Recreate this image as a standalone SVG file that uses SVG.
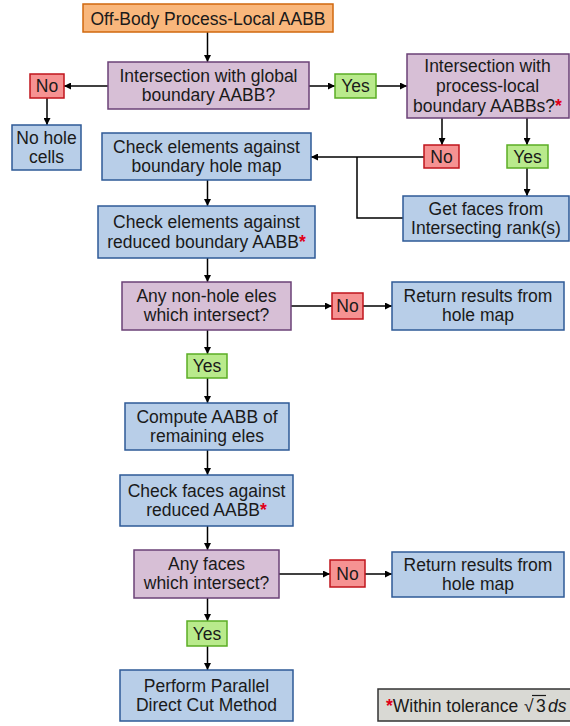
<svg xmlns="http://www.w3.org/2000/svg" width="570" height="726" viewBox="0 0 570 726">
<style>
text{font-family:"Liberation Sans",Arial,sans-serif;font-size:17.5px;fill:#1a1a1a;text-anchor:middle}
rect{stroke-width:1.5}
.org{fill:#f9b77c;stroke:#d0680e}
.pur{fill:#d7bfd6;stroke:#6b4277}
.blu{fill:#b8cee8;stroke:#2e5a97}
.red{fill:#f69292;stroke:#c0141c}
.grn{fill:#b9ea8c;stroke:#5bad24}
.leg{fill:#d9d9d4;stroke:#333333}
.ast{fill:#e0001a;font-weight:bold}
#connectors line,#connectors polyline{stroke:#000;stroke-width:1.5;fill:none}
</style>
<defs>
<marker id="ah" viewBox="0 0 10 10" refX="10" refY="5" markerWidth="7" markerHeight="7" markerUnits="userSpaceOnUse" orient="auto">
<path d="M0,0 L10,5 L0,10 Z" fill="#000"/>
</marker>
</defs>
<rect width="570" height="726" fill="#ffffff"/>
<g id="connectors">
<line x1="207.5" y1="32" x2="207.5" y2="62" marker-end="url(#ah)"/>
<line x1="108" y1="86" x2="64" y2="86" marker-end="url(#ah)"/>
<line x1="47" y1="98" x2="47" y2="125" marker-end="url(#ah)"/>
<line x1="309" y1="86" x2="335" y2="86" marker-end="url(#ah)"/>
<line x1="376" y1="86" x2="407" y2="86" marker-end="url(#ah)"/>
<line x1="442" y1="118" x2="442" y2="145" marker-end="url(#ah)"/>
<line x1="527" y1="118" x2="527" y2="145" marker-end="url(#ah)"/>
<line x1="527" y1="168" x2="527" y2="196" marker-end="url(#ah)"/>
<line x1="424" y1="157" x2="311" y2="157" marker-end="url(#ah)"/>
<polyline points="403,218 357,218 357,157"/>
<line x1="207.5" y1="180" x2="207.5" y2="206" marker-end="url(#ah)"/>
<line x1="207.5" y1="258" x2="207.5" y2="282" marker-end="url(#ah)"/>
<line x1="291" y1="306" x2="332" y2="306" marker-end="url(#ah)"/>
<line x1="363" y1="306" x2="392" y2="306" marker-end="url(#ah)"/>
<line x1="207.5" y1="330" x2="207.5" y2="354" marker-end="url(#ah)"/>
<line x1="207.5" y1="378" x2="207.5" y2="403" marker-end="url(#ah)"/>
<line x1="207.5" y1="450" x2="207.5" y2="475" marker-end="url(#ah)"/>
<line x1="207.5" y1="526" x2="207.5" y2="550" marker-end="url(#ah)"/>
<line x1="279" y1="574" x2="330" y2="574" marker-end="url(#ah)"/>
<line x1="365" y1="574" x2="392" y2="574" marker-end="url(#ah)"/>
<line x1="207.5" y1="598" x2="207.5" y2="621" marker-end="url(#ah)"/>
<line x1="207.5" y1="646" x2="207.5" y2="670" marker-end="url(#ah)"/>
</g>
<g id="start"><rect class="org" x="83" y="4" width="250" height="28"/><text x="208" y="24.5">Off-Body Process-Local AABB</text></g>
<g id="d1"><rect class="pur" x="108" y="62" width="201" height="47"/><text x="208.5" y="81.5">Intersection with global</text><text x="208.5" y="101">boundary AABB?</text></g>
<g id="no1"><rect class="red" x="30" y="74" width="34" height="24"/><text x="47" y="92">No</text></g>
<g id="nohole"><rect class="blu" x="12" y="125" width="69" height="45"/><text x="46.5" y="143.5">No hole</text><text x="46.5" y="163">cells</text></g>
<g id="check1"><rect class="blu" x="102" y="133" width="209" height="47"/><text x="206.5" y="152.5">Check elements against</text><text x="206.5" y="172">boundary hole map</text></g>
<g id="yes1"><rect class="grn" x="335" y="74" width="41" height="24"/><text x="355.5" y="92">Yes</text></g>
<g id="d2"><rect class="pur" x="407" y="54" width="162" height="64"/><text x="487.5" y="71.5">Intersection with</text><text x="487.5" y="91.5">process-local</text><text x="487.5" y="111.5">boundary AABBs?<tspan class="ast">*</tspan></text></g>
<g id="no2"><rect class="red" x="424" y="145" width="35" height="23"/><text x="441.5" y="162.5">No</text></g>
<g id="yes2"><rect class="grn" x="507" y="145" width="41" height="23"/><text x="527.5" y="162.5">Yes</text></g>
<g id="getfaces"><rect class="blu" x="403" y="196" width="166" height="45"/><text x="486" y="214.5">Get faces from</text><text x="486" y="234">Intersecting rank(s)</text></g>
<g id="check2"><rect class="blu" x="98" y="206" width="217" height="52"/><text x="206.5" y="228">Check elements against</text><text x="206.5" y="247.5">reduced boundary AABB<tspan class="ast">*</tspan></text></g>
<g id="d3"><rect class="pur" x="122" y="282" width="169" height="48"/><text x="206.5" y="302">Any non-hole eles</text><text x="206.5" y="321">which intersect?</text></g>
<g id="no3"><rect class="red" x="332" y="293" width="31" height="26"/><text x="347.5" y="312">No</text></g>
<g id="ret1"><rect class="blu" x="392" y="282" width="172" height="48"/><text x="478" y="302">Return results from</text><text x="478" y="321">hole map</text></g>
<g id="yes3"><rect class="grn" x="187" y="354" width="40" height="24"/><text x="207" y="372">Yes</text></g>
<g id="compute"><rect class="blu" x="125" y="403" width="164" height="47"/><text x="207" y="422.5">Compute AABB of</text><text x="207" y="442">remaining eles</text></g>
<g id="checkfaces"><rect class="blu" x="120" y="475" width="173" height="51"/><text x="206.5" y="496.5">Check faces against</text><text x="206.5" y="516">reduced AABB<tspan class="ast">*</tspan></text></g>
<g id="d4"><rect class="pur" x="134" y="550" width="145" height="48"/><text x="206.5" y="570">Any faces</text><text x="206.5" y="589">which intersect?</text></g>
<g id="no4"><rect class="red" x="330" y="560" width="35" height="27"/><text x="347.5" y="579.5">No</text></g>
<g id="ret2"><rect class="blu" x="392" y="552" width="172" height="45"/><text x="478" y="570.5">Return results from</text><text x="478" y="590">hole map</text></g>
<g id="yes4"><rect class="grn" x="187" y="621" width="40" height="25"/><text x="207" y="640">Yes</text></g>
<g id="perform"><rect class="blu" x="120" y="670" width="173" height="51"/><text x="206.5" y="691.5">Perform Parallel</text><text x="206.5" y="711">Direct Cut Method</text></g>
<g id="legend"><rect class="leg" x="378" y="689" width="200" height="32"/>
<text x="386" y="711.5" style="text-anchor:start"><tspan class="ast">*</tspan>Within tolerance <tspan x="524">√</tspan><tspan x="536">3</tspan><tspan x="548" font-style="italic">ds</tspan></text>
<line x1="532" y1="695.5" x2="546" y2="695.5" stroke="#1a1a1a" stroke-width="1.2"/>
</g>
</svg>
